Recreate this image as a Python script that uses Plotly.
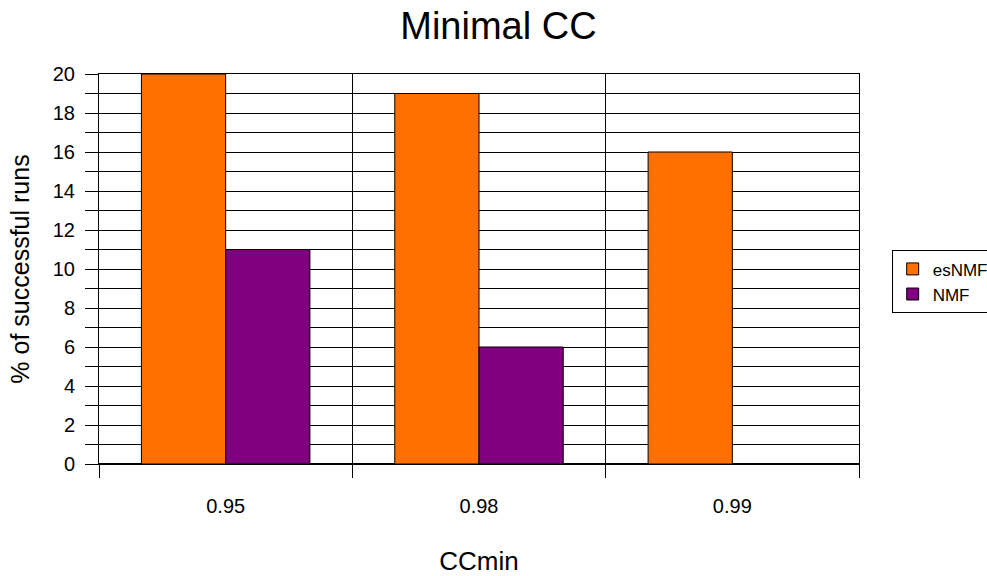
import plotly.graph_objects as go

# Threshold values on the x axis and the share of successful runs per method
categories = ["0.95", "0.98", "0.99"]
esnmf_pct = [20, 19, 16]
nmf_pct = [11, 6, 0]

FONT = "Liberation Sans, Arial, sans-serif"

fig = go.Figure()
fig.add_trace(go.Bar(
    name="esNMF", x=categories, y=esnmf_pct,
    marker=dict(color="#FF7000", line=dict(color="#000000", width=1)),
))
fig.add_trace(go.Bar(
    name="NMF", x=categories, y=nmf_pct,
    marker=dict(color="#800080", line=dict(color="#000000", width=1)),
))

fig.update_layout(
    width=987, height=576,
    margin=dict(l=99, r=128, t=74, b=112, autoexpand=False),
    paper_bgcolor="white", plot_bgcolor="white",
    font=dict(family=FONT, color="black", size=17),
    barmode="group", bargap=0.335, bargroupgap=0,
    title=dict(text="Minimal CC", x=0.505, xanchor="center", y=0.956, yanchor="middle",
               yref="container", font=dict(size=38, family=FONT)),
    legend=dict(x=1.043, xanchor="left", y=0.467, yanchor="middle",
                bordercolor="#000000", borderwidth=1, bgcolor="white",
                font=dict(size=17, family=FONT), tracegroupgap=0),
    showlegend=True,
)

fig.update_xaxes(
    type="category", tickson="boundaries",
    ticks="outside", ticklen=13, tickcolor="black", tickwidth=1,
    showgrid=True, gridcolor="black", gridwidth=1,
    showline=True, linecolor="black", linewidth=1, mirror=True,
    ticklabelstandoff=24,
    tickfont=dict(size=20),
    title=dict(text="CCmin", font=dict(size=26), standoff=36),
)

fig.update_yaxes(
    range=[0, 20], dtick=2, tick0=0,
    ticks="outside", ticklen=13, tickcolor="black", tickwidth=1,
    showgrid=True, gridcolor="black", gridwidth=1,
    minor=dict(dtick=1, ticks="outside", ticklen=13, tickcolor="black",
               showgrid=True, gridcolor="black", gridwidth=1),
    zeroline=True, zerolinecolor="black", zerolinewidth=1.5,
    showline=True, linecolor="black", linewidth=1, mirror=True,
    ticklabelstandoff=6,
    tickfont=dict(size=20),
    title=dict(text="% of successful runs", font=dict(size=25), standoff=16),
)

fig.write_html("out.html")
